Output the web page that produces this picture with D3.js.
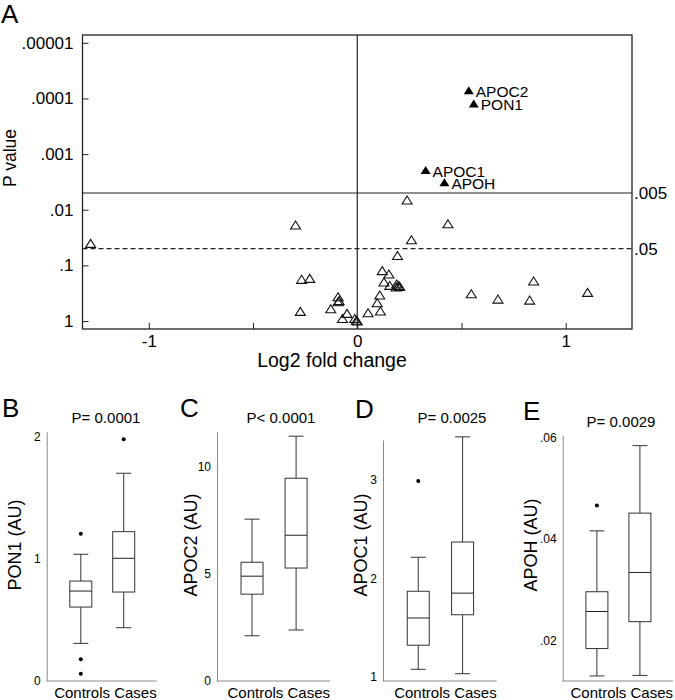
<!DOCTYPE html>
<html>
<head>
<meta charset="utf-8">
<script src="https://cdnjs.cloudflare.com/ajax/libs/d3/7.8.5/d3.min.js"></script>
<style>
  body{margin:0;background:#fff}
  svg{display:block}
  text{font-family:"Liberation Sans",Arial,sans-serif;fill:#000}
</style>
</head>
<body>
<svg id="fig" width="675" height="700"></svg>
<script>
// ---- panel A data (volcano) ----
var foldChange = [-1.279,-0.296,-0.267,-0.228,-0.273,-0.127,-0.092,-0.087,-0.092,-0.049,-0.071,-0.012,-0.004,0.0,
  0.052,0.111,0.096,0.108,0.120,0.152,0.128,0.156,0.189,0.199,0.187,0.204,0.193,0.239,0.260,0.435,0.547,0.675,0.827,0.846,1.105]
var pValue = [0.0402,0.0188,0.178,0.171,0.670,0.601,0.366,0.429,0.450,0.728,0.902,0.902,0.97,1.0,
  0.710,0.661,0.469,0.341,0.124,0.143,0.199,0.229,0.216,0.230,0.245,0.240,0.0665,0.0067,0.0345,0.0179,0.324,0.403,0.420,0.191,0.305]
var sigGenes = ["APOC2","PON1","APOC1","APOH"]
var sigFoldChange = [0.535,0.559,0.328,0.418]
var sigPValue = [0.000071,0.000123,0.00194,0.00322]
var pTicks = [1,0.1,0.01,0.001,0.0001,0.00001]
var pTickLabels = ["1",".1",".01",".001",".0001",".00001"]
var fcTicks = [-1,-0.5,0,0.5,1]
var cutoffs = [0.005,0.05]
var cutoffLabels = [".005",".05"]

// ---- panels B-E data (box plots): [lowWhisker, q1, median, q3, highWhisker] ----
var groups = ["Controls","Cases"]
var pon1Stats = [[0.308,0.605,0.736,0.818,1.037],[0.436,0.728,1.004,1.222,1.70]]
var pon1Outliers = [[1.205,0.177,0.06],[1.978]]
var apoc2Stats = [[2.11,4.05,4.89,5.54,7.55],[2.38,5.27,6.80,9.46,11.42]]
var apoc2Outliers = [[],[]]
var apoc1Stats = [[1.075,1.32,1.597,1.869,2.215],[1.03,1.63,1.85,2.37,3.44]]
var apoc1Outliers = [[2.99],[]]
var apohStats = [[0.0130,0.0184,0.0257,0.0296,0.0416],[0.0131,0.0237,0.0334,0.0451,0.0584]]
var apohOutliers = [[0.0466],[]]
var boxTitles = ["P= 0.0001","P< 0.0001","P= 0.0025","P= 0.0029"]
var boxYLabels = ["PON1 (AU)","APOC2 (AU)","APOC1 (AU)","APOH (AU)"]
var boxTicks = [[0,1,2],[0,5,10],[1,2,3],[0.02,0.04,0.06]]
var boxTickLabels = [["0","1","2"],["0","5","10"],["1","2","3"],[".02",".04",".06"]]

var svg = d3.select("#fig")
var FONT = '"Liberation Sans",Arial,sans-serif'

// panel letter helper
function letter(t,x,y){
  svg.append("text").attr("x",x).attr("y",y).attr("font-size",26).text(t)
}

/************ A: volcano ************/
var L=82.5, R=632, T=35, B=329
var vx = d3.scaleLinear().domain([-1.318,1.318]).range([L,R])
var vy = d3.scaleLog().domain([1.39,7.24e-6]).range([B,T])
var vol = svg.append("g")

letter("A",1,23)

vol.append("rect").attr("x",L).attr("y",T).attr("width",R-L).attr("height",B-T)
   .attr("fill","none").attr("stroke","#222").attr("stroke-width",1.3)

var yAx = vol.append("g").attr("transform",`translate(${L},0)`)
  .call(d3.axisLeft(vy).tickValues(pTicks).tickFormat(d=>pTickLabels[pTicks.indexOf(d)])
        .tickSizeInner(-6).tickSizeOuter(0).tickPadding(9))
yAx.select(".domain").remove()
yAx.attr("font-size",17).attr("font-family",FONT)
yAx.selectAll("line").attr("stroke","#222")

var xAx = vol.append("g").attr("transform",`translate(0,${B})`)
  .call(d3.axisBottom(vx).tickValues(fcTicks).tickFormat(d=>Number.isInteger(d)?String(d):"")
        .tickSizeInner(-6).tickSizeOuter(0).tickPadding(6))
xAx.select(".domain").remove()
xAx.attr("font-size",17).attr("font-family",FONT)
xAx.selectAll("line").attr("stroke","#222")

// zero line
vol.append("line").attr("x1",vx(0)).attr("x2",vx(0)).attr("y1",T).attr("y2",B)
   .attr("stroke","#222").attr("stroke-width",1.2)

// p cutoffs
vol.selectAll(".cut").data(cutoffs).join("line").attr("class","cut")
   .attr("x1",L).attr("x2",R).attr("y1",d=>vy(d)).attr("y2",d=>vy(d))
   .attr("stroke","#222").attr("stroke-width",1.2)
   .attr("stroke-dasharray",(d,i)=>i==1?"5,3":null)
vol.selectAll(".cutlab").data(cutoffs).join("text").attr("class","cutlab")
   .attr("x",R+2).attr("y",d=>vy(d)+6).attr("font-size",17)
   .text((d,i)=>cutoffLabels[i])

var tri = "M0,-4L5,4L-5,4Z"
vol.selectAll(".open").data(d3.zip(foldChange,pValue)).join("path").attr("class","open")
   .attr("d",tri).attr("transform",d=>`translate(${vx(d[0])},${vy(d[1])})`)
   .attr("fill","none").attr("stroke","#111").attr("stroke-width",1.1)

var sig = d3.zip(sigGenes,sigFoldChange,sigPValue)
vol.selectAll(".sig").data(sig).join("path").attr("class","sig")
   .attr("d",tri).attr("transform",d=>`translate(${vx(d[1])},${vy(d[2])})`)
   .attr("fill","#000")
vol.selectAll(".siglab").data(sig).join("text").attr("class","siglab")
   .attr("x",d=>vx(d[1])+7).attr("y",d=>vy(d[2])+6.5).attr("font-size",15.5)
   .text(d=>d[0])

vol.append("text").attr("transform","translate(16,158) rotate(-90)")
   .attr("text-anchor","middle").attr("font-size",17.5).text("P value")
vol.append("text").attr("x",332).attr("y",367).attr("text-anchor","middle")
   .attr("font-size",19.5).text("Log2 fold change")

/************ B-E: box plots ************/
var boxStats = [pon1Stats,apoc2Stats,apoc1Stats,apohStats]
var boxOutliers = [pon1Outliers,apoc2Outliers,apoc1Outliers,apohOutliers]
var BOT = 681
var layout = [
  {x0:46.7, x1:156.7, top:431.7, dom:[0,2.04],       lx:2,   tx:106, yl:20.5},
  {x0:217,  x1:330,   top:431.7, dom:[0,11.63],      lx:180, tx:281, yl:197},
  {x0:383,  x1:496.7, top:440,   dom:[0.956,3.408],  lx:355, tx:452, yl:366.5},
  {x0:562.7,x1:673,   top:435,   dom:[0.012,0.0605], lx:523, tx:621, yl:537}
]
var titleY = [423,423,423,426.5]
var letterY = [417,417,418,420]

layout.forEach(function(P,i){
  var g = svg.append("g")
  var y = d3.scaleLinear().domain(P.dom).range([BOT,P.top])
  var w = P.x1-P.x0
  var xs = d3.scalePoint().domain(groups).range([P.x0+0.31*w, P.x0+0.70*w])

  letter(["B","C","D","E"][i], P.lx, letterY[i])
  g.append("text").attr("x",P.tx).attr("y",titleY[i]).attr("text-anchor","middle")
   .attr("font-size",15).text(boxTitles[i])

  var ax = g.append("g").attr("transform",`translate(${P.x0},0)`)
    .call(d3.axisLeft(y).tickValues(boxTicks[i]).tickFormat(d=>boxTickLabels[i][boxTicks[i].indexOf(d)])
          .tickSize(0).tickPadding(6))
  ax.attr("font-size",12).attr("font-family",FONT)
  ax.select(".domain").attr("stroke","#8a8a8a")
  g.append("line").attr("x1",P.x0).attr("x2",P.x1).attr("y1",BOT).attr("y2",BOT).attr("stroke","#8a8a8a")

  g.append("text").attr("x",P.x1).attr("y",698).attr("text-anchor","end")
   .attr("font-size",15).text(groups.join(" "))
  g.append("text").attr("transform",`translate(${P.yl},545) rotate(-90)`)
   .attr("text-anchor","middle").attr("font-size",18).text(boxYLabels[i])

  var bw = 22, cw = 15
  var bx = g.selectAll(".bx").data(boxStats[i]).join("g").attr("class","bx")
  bx.each(function(s,j){
    var e = d3.select(this), cx = xs(groups[j])
    e.append("line").attr("x1",cx).attr("x2",cx).attr("y1",y(s[3])).attr("y2",y(s[4])).attr("stroke","#333")
    e.append("line").attr("x1",cx).attr("x2",cx).attr("y1",y(s[1])).attr("y2",y(s[0])).attr("stroke","#333")
    e.append("line").attr("x1",cx-cw/2).attr("x2",cx+cw/2).attr("y1",y(s[4])).attr("y2",y(s[4])).attr("stroke","#333")
    e.append("line").attr("x1",cx-cw/2).attr("x2",cx+cw/2).attr("y1",y(s[0])).attr("y2",y(s[0])).attr("stroke","#333")
    e.append("rect").attr("x",cx-bw/2).attr("y",y(s[3])).attr("width",bw).attr("height",y(s[1])-y(s[3]))
      .attr("fill","#fff").attr("stroke","#333")
    e.append("line").attr("x1",cx-bw/2).attr("x2",cx+bw/2).attr("y1",y(s[2])).attr("y2",y(s[2])).attr("stroke","#222")
    e.selectAll("circle").data(boxOutliers[i][j]).join("circle")
      .attr("cx",cx).attr("cy",d=>y(d)).attr("r",2).attr("fill","#000")
  })
})
</script>
</body>
</html>
